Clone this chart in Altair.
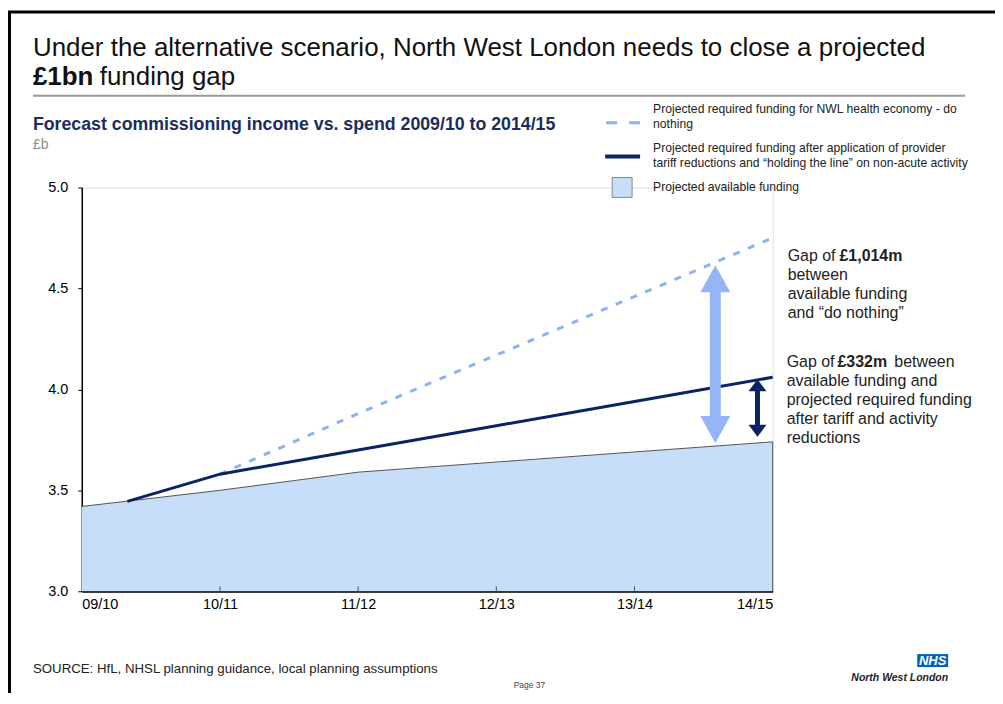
import altair as alt
import pandas as pd

# ---------------- data ----------------
years = ["09/10", "10/11", "11/12", "12/13", "13/14", "14/15"]
year_idx = [0, 1, 2, 3, 4, 5]
available = [3.42, 3.50, 3.59, 3.64, 3.69, 3.74]
required_x = [0.33, 1, 2, 3, 4, 5]
required = [3.445, 3.58, 3.70, 3.82, 3.94, 4.06]
donothing_x = [1, 2, 3, 4, 5]
donothing = [3.58, 3.88, 4.17, 4.46, 4.75]
y_ticks = [3.0, 3.5, 4.0, 4.5, 5.0]

gap_big_x = 4.585
gap_big_top = 4.615
gap_big_bottom = 3.735
gap_small_x = 4.89
gap_small_top = 4.05
gap_small_bottom = 3.765

FONT = "Liberation Sans"
NAVY = "#0A2463"
LIGHT = "#8FB0F4"
ARROW_LIGHT = "#95B5F7"
FILL = "#C6DEF8"

W, H = 693, 405
PX_PER_UNIT = H / 2.0

xs = alt.Scale(domain=[0, 5], nice=False, zero=False)
ys = alt.Scale(domain=[3, 5], nice=False, zero=False)

label_expr = "[" + ",".join("'" + y + "'" for y in years) + "][datum.value]"

df_av = pd.DataFrame({"x": year_idx, "y": available})
df_req = pd.DataFrame({"x": required_x, "y": required})
df_dn = pd.DataFrame({"x": donothing_x, "y": donothing})
dummy = pd.DataFrame({"a": [0]})

X = alt.X("x:Q", scale=xs, axis=alt.Axis(values=year_idx, labelExpr=label_expr, ticks=False,
                                          grid=False, labelPadding=6, domainColor="black",
                                          domainWidth=2, labelFontSize=14.5, labelColor="black",
                                          labelFont=FONT, title=None))
Y = alt.Y("y:Q", scale=ys, axis=alt.Axis(values=y_ticks, format=".1f", grid=False, tickSize=4,
                                          tickColor="black", domainColor="black", domainWidth=1.5,
                                          labelPadding=10, labelFontSize=14.5, labelColor="black",
                                          labelFont=FONT, title=None))

area = alt.Chart(df_av).mark_area(color=FILL, opacity=1,
                                   line={"color": "#555555", "strokeWidth": 1}).encode(
    x=X, y=Y, y2=alt.datum(3.0))

edge = alt.Chart(pd.DataFrame({"x": [year_idx[-1]], "y": [available[-1]]})).mark_rule(
    color="#555555", strokeWidth=1).encode(x=alt.X("x:Q", scale=xs), y=alt.Y("y:Q", scale=ys),
                                           y2=alt.datum(3.0))

inner_ticks = alt.Chart(pd.DataFrame({"x": year_idx[1:-1]})).mark_rule(
    color="#555555", strokeWidth=1).encode(
    x=alt.X("x:Q", scale=xs), y=alt.datum(3.0), y2=alt.datum(3.0 + 5 / PX_PER_UNIT))

dashed = alt.Chart(df_dn).mark_line(color=LIGHT, strokeWidth=3, strokeDash=[7, 9]).encode(
    x=alt.X("x:Q", scale=xs), y=alt.Y("y:Q", scale=ys))

solid = alt.Chart(df_req).mark_line(color=NAVY, strokeWidth=3).encode(
    x=alt.X("x:Q", scale=xs), y=alt.Y("y:Q", scale=ys))


def arrow(xv, top, bottom, color, shaft, head_w, head_h):
    ratio = head_h / (head_w / 2.0)
    up = "M0,0 L1,%.3f L-1,%.3f Z" % (ratio, ratio)
    down = "M0,0 L1,-%.3f L-1,-%.3f Z" % (ratio, ratio)
    inset = (head_h - 2) / PX_PER_UNIT
    sh = alt.Chart(pd.DataFrame({"x": [xv], "y": [top - inset], "y2": [bottom + inset]})).mark_rule(
        color=color, strokeWidth=shaft).encode(x=alt.X("x:Q", scale=xs), y=alt.Y("y:Q", scale=ys),
                                               y2="y2:Q")
    h1 = alt.Chart(pd.DataFrame({"x": [xv], "y": [top]})).mark_point(
        shape=up, size=head_w ** 2, filled=True, color=color, opacity=1).encode(
        x=alt.X("x:Q", scale=xs), y=alt.Y("y:Q", scale=ys))
    h2 = alt.Chart(pd.DataFrame({"x": [xv], "y": [bottom]})).mark_point(
        shape=down, size=head_w ** 2, filled=True, color=color, opacity=1).encode(
        x=alt.X("x:Q", scale=xs), y=alt.Y("y:Q", scale=ys))
    return [sh, h1, h2]


arrows = arrow(gap_big_x, gap_big_top, gap_big_bottom, ARROW_LIGHT, 11, 30, 27) + \
    arrow(gap_small_x, gap_small_top, gap_small_bottom, NAVY, 5, 18, 12)


def txt(s, x, y, size=13, weight="normal", color="black", align="left", baseline="middle",
        style="normal", font=FONT):
    return alt.Chart(dummy).mark_text(text=s, font=font, fontSize=size, fontWeight=weight,
                                      color=color, align=align, baseline=baseline,
                                      fontStyle=style).encode(x=alt.value(x), y=alt.value(y))


def rule(x1, x2, y1, y2, color="black", width=1, dash=None):
    kw = {}
    if dash:
        kw["strokeDash"] = dash
    return alt.Chart(dummy).mark_rule(color=color, strokeWidth=width, **kw).encode(
        x=alt.value(x1), x2=alt.value(x2), y=alt.value(y1), y2=alt.value(y2))


LEG = 12.2
ANN = 16

deco = [
    # page border
    rule(-74, 916, -176, -176, "black", 3),
    rule(-72.5, -72.5, -177, 507, "black", 3),
    # title
    txt("Under the alternative scenario, North West London needs to close a projected", -49, -132,
        26, baseline="alphabetic", color="#111111"),
    txt("£1bn", -49, -103, 26, weight="bold", baseline="alphabetic", color="#111111"),
    txt("funding gap", 18, -103, 26, baseline="alphabetic", color="#111111"),
    rule(-49, 886, -92, -92, "#999999", 2),
    # subtitle
    txt("Forecast commissioning income vs. spend 2009/10 to 2014/15", -49, -58, 17.8, weight="bold",
        color="#1B2D5E", baseline="alphabetic"),
    txt("£b", -49, -39, 14, color="#8C8C8C", baseline="alphabetic"),
    # legend
    rule(526, 560, -65, -65, LIGHT, 3, [11, 12]),
    txt("Projected required funding for NWL health economy - do", 573, -79, LEG, color="#222222"),
    txt("nothing", 573, -64, LEG, color="#222222"),
    rule(525, 560, -31, -31, NAVY, 4),
    txt("Projected required funding after application of provider", 573, -40, LEG, color="#222222"),
    txt("tariff reductions and \u201cholding the line\u201d on non-acute activity", 573, -25, LEG,
        color="#222222"),
    alt.Chart(dummy).mark_point(shape="square", size=400, filled=True, fill=FILL, stroke="#888888",
                                strokeWidth=1, opacity=1).encode(x=alt.value(542), y=alt.value(0)),
    txt("Projected available funding", 573, 0, LEG, color="#222222"),
    # annotations
    txt("Gap of", 708, 69, ANN, color="#222222"),
    txt("£1,014m", 760, 69, ANN, weight="bold", color="#222222"),
    txt("between", 708, 88, ANN, color="#222222"),
    txt("available funding", 708, 107, ANN, color="#222222"),
    txt("and \u201cdo nothing\u201d", 708, 126, ANN, color="#222222"),
    txt("Gap of", 707, 175, ANN, color="#222222"),
    txt("£332m", 758, 175, ANN, weight="bold", color="#222222"),
    txt("between", 815, 175, ANN, color="#222222"),
    txt("available funding and", 707, 194, ANN, color="#222222"),
    txt("projected required funding", 707, 213, ANN, color="#222222"),
    txt("after tariff and activity", 707, 232, ANN, color="#222222"),
    txt("reductions", 707, 251, ANN, color="#222222"),
    # footer
    txt("SOURCE: HfL, NHSL planning guidance, local planning assumptions", -49, 483, 13.3,
        color="#222222"),
    txt("Page 37", 449, 499, 8.5, color="#444444", align="center"),
    alt.Chart(dummy).mark_rect(color="#0064B4").encode(x=alt.value(838), x2=alt.value(869),
                                                        y=alt.value(468), y2=alt.value(481)),
    txt("NHS", 853.5, 475, 13, weight="bold", style="italic", color="white", align="center"),
    txt("North West London", 869, 492, 10.5, weight="bold", style="italic", color="#222222",
        align="right"),
]

chart = alt.layer(area, edge, inner_ticks, dashed, solid, *arrows, *deco).properties(
    width=W, height=H,
    autosize=alt.AutoSizeParams(type="none"),
    padding={"left": 74, "top": 179, "right": 223, "bottom": 102},
).configure_view(strokeWidth=0).configure(font=FONT, background="white")

chart.save("out.html", embed_options={"renderer": "svg", "actions": False})
